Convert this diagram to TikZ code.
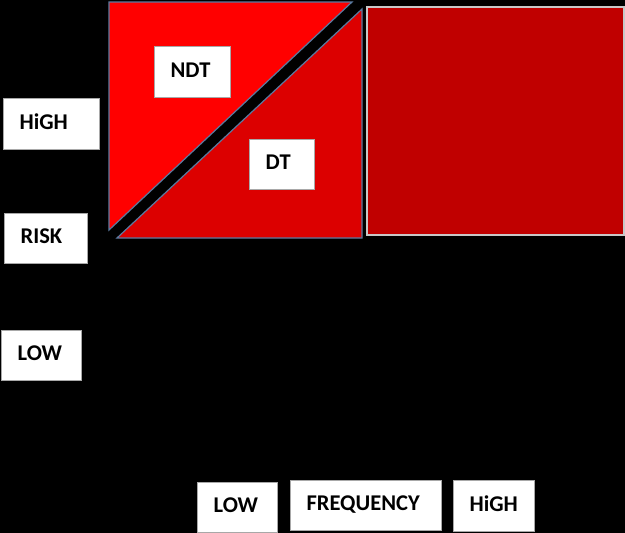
\documentclass[tikz,border=0pt]{standalone}
\usepackage{fontspec}
\setmainfont{Carlito}
\definecolor{ndtred}{HTML}{FF0000}
\definecolor{dtred}{HTML}{DC0000}
\definecolor{sqred}{HTML}{C00000}
\definecolor{triedge}{HTML}{5A7AA0}
\definecolor{sqedge}{HTML}{C8C8C8}
\definecolor{boxedge}{HTML}{A8A8A8}
\tikzset{
  lbl/.style={draw=boxedge, line width=1.3pt, fill=white, anchor=north west,
    inner xsep=0pt, inner ysep=0pt, align=left,
    font=\bfseries\fontsize{22.5}{25}\selectfont, text height=14.5pt, text depth=4pt},
  tri/.style={draw=triedge, line width=1.2pt},
}
\newcommand\lab[6]{\node[lbl, minimum height=#5, text width=#4] (#1) at (#2,#3) {\hspace*{16pt}#6};}
\begin{document}
\begin{tikzpicture}[x=1pt,y=-1pt]
\useasboundingbox (0,0) rectangle (625,533);
\fill[black] (0,0) rectangle (625,533);
% triangles
\filldraw[tri, fill=ndtred] (109,2) -- (352,2) -- (109,230) -- cycle;
\filldraw[tri, fill=dtred] (362,9) -- (362,238) -- (117,238) -- cycle;
% square
\filldraw[fill=sqred, draw=sqedge, line width=1.5pt] (367,7) rectangle (624,235);
% labels
\lab{ndt}{154}{46}{76pt}{51pt}{NDT}
\lab{dt}{249}{139}{65pt}{50pt}{DT}
\lab{riskhigh}{3}{98}{96pt}{51pt}{HiGH}
\lab{risk}{4}{213}{83pt}{50pt}{RISK}
\lab{risklow}{1}{330}{80pt}{50pt}{LOW}
\lab{freqlow}{197}{482}{80pt}{50pt}{LOW}
\lab{freq}{290}{480}{151pt}{50pt}{FREQUENCY}
\lab{freqhigh}{453}{480}{81pt}{51pt}{HiGH}
\end{tikzpicture}
\end{document}
